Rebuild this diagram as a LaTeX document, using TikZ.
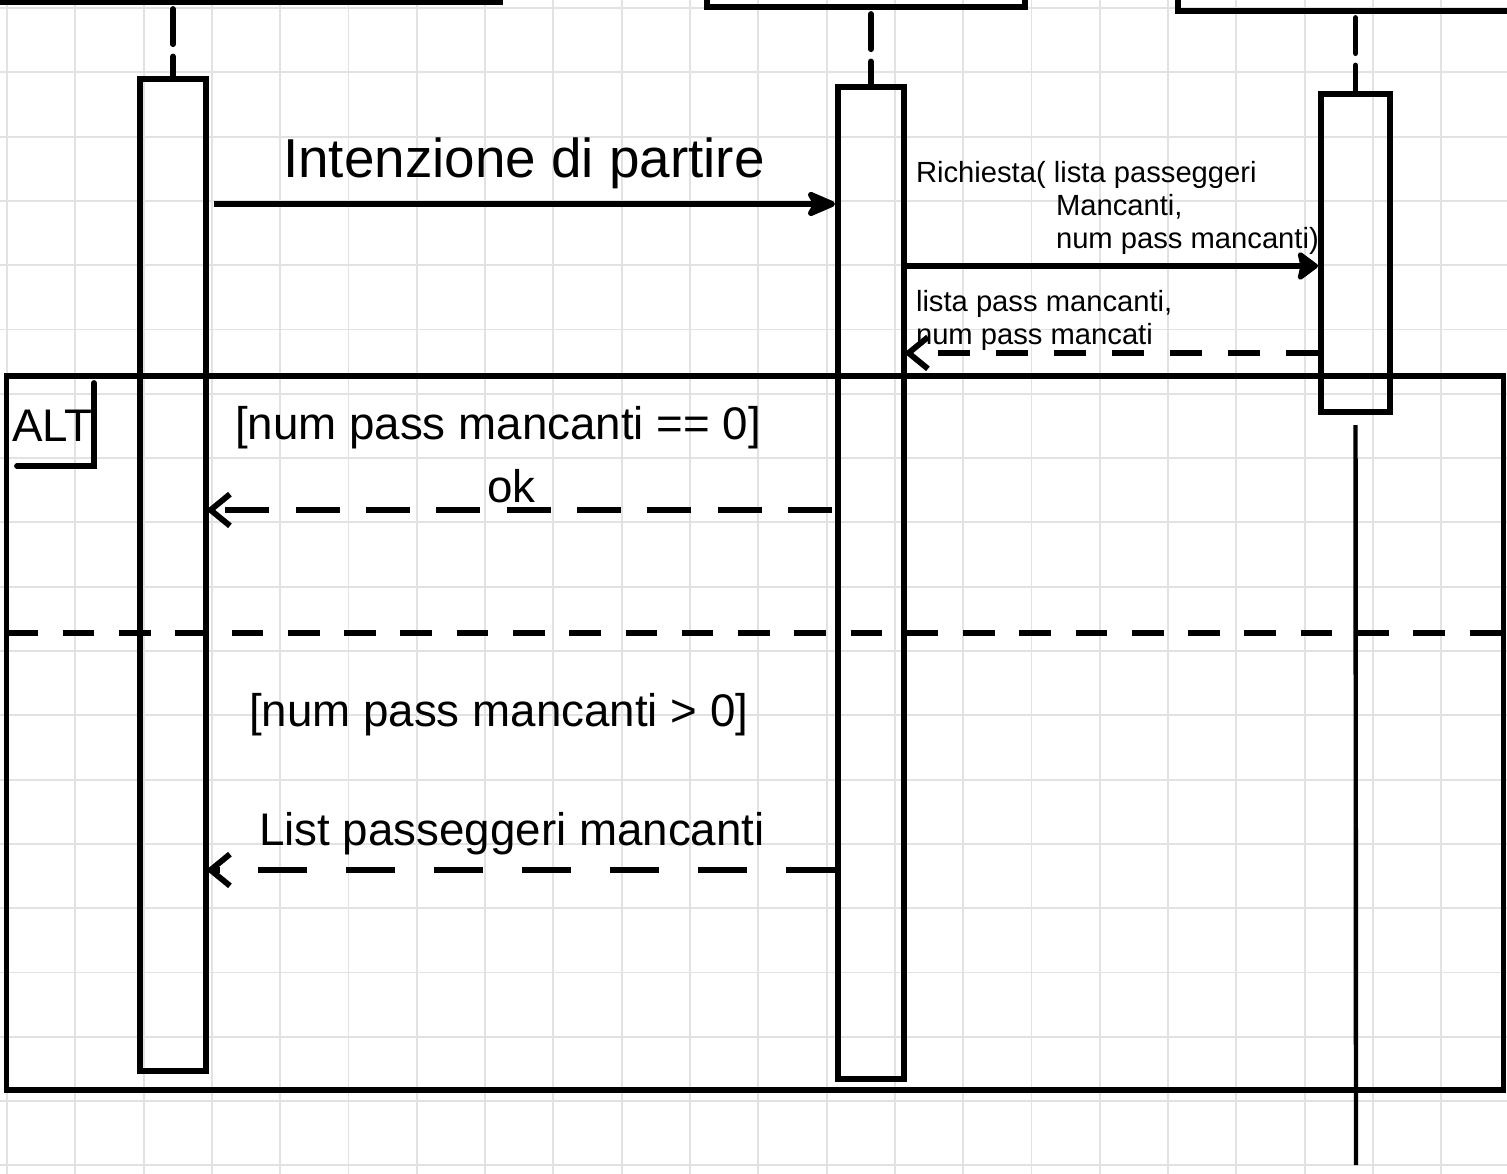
\documentclass[tikz,border=0pt]{standalone}
\usepackage{fontspec}
\setmainfont{Liberation Sans}
\usetikzlibrary{arrows.meta}
\definecolor{gridgray}{RGB}{226,226,226}

\begin{document}
\begin{tikzpicture}[x=0.01cm, y=-0.01cm,
  thickline/.style={line width=1.65pt},
  gridline/.style={draw=gridgray, line width=0.55pt},
  head/.style={draw, thickline, inner sep=0pt, outer sep=0pt, minimum height=1.24cm},
  act/.style={draw, thickline, inner sep=0pt, outer sep=0pt, minimum width=0.66cm},
  life/.style={thickline, dash pattern=on 10pt off 3.5pt, line cap=round},
  call/.style={thickline, -{Stealth[length=10pt,width=8.5pt,inset=2.5pt,round]}},
  reply/.style={thickline, -{Straight Barb[length=5.5pt,width=9pt]}},
  lbl/.style={anchor=base west, inner sep=0pt, outer sep=0pt},
  big/.style={lbl, font=\fontsize{15.6}{18}\selectfont},
  mid/.style={lbl, font=\fontsize{13}{15}\selectfont},
  small/.style={lbl, font=\fontsize{8.3}{9.4}\selectfont},
]
\useasboundingbox (0,0) rectangle (1507,1174);
\clip (0,0) rectangle (1507,1174);
\fill[white] (0,0) rectangle (1507,1174);

% grid paper
\foreach \gx in {0,...,21}
  \draw[gridline] ({7+68.3*\gx},0) -- ({7+68.3*\gx},1174);
\foreach \gy in {0,...,18}
  \draw[gridline] (0,{8+64.3*\gy}) -- (1507,{8+64.3*\gy});

% object heads, cut by the top edge
\node[head, minimum width=5.4cm] (headA) at (230,-60) {};
\node[head, minimum width=3.18cm] (headB) at (866,-55) {};
\node[head, minimum width=3.82cm] (headC) at (1369,-51) {};

% activations
\node[act, minimum height=9.92cm] (actA) at (173,575) {};
\node[act, minimum height=9.92cm] (actB) at (871,583) {};
\node[act, minimum width=0.69cm, minimum height=3.18cm] (actC) at (1355.5,253) {};

% lifelines
\draw[life, shorten <=0.07cm] (actA.north |- headA.south) -- (actA.north);
\draw[life, shorten <=0.07cm] (actB.north |- headB.south) -- (actB.north);
\draw[life, shorten <=0.07cm] (actC.north |- headC.south) -- (actC.north);
\coordinate (tailC) at (1356,1165);
\draw[line width=1.25pt] ([yshift=-0.13cm]actC.south) -- (tailC);

% alt fragment
\node[draw, thickline, inner sep=0pt, outer sep=0pt,
      minimum width=14.96cm, minimum height=7.14cm] (altbox) at (755,733) {};
\node[mid] (altlbl) at (12,442) {ALT};
\draw[thickline, line cap=round] (94,383) -- (94,466) -- (17,466);
\draw[thickline, dash pattern=on 9pt off 7pt]
  (altbox.west |- 0,633) -- (altbox.east |- 0,633);

% messages
\draw[call, shorten <=0.08cm, shorten >=0.03cm] (actA.east |- 0,204) -- (actB.west |- 0,204);
\node[big] (msgStart) at (283,178) {Intenzione di partire};

\draw[thickline, -{Stealth[length=6.5pt,width=9.5pt,inset=1pt,round]}, shorten <=0.03cm, shorten >=0.03cm]
  (actB.east |- 0,266) -- (actC.west |- 0,266);
\node[small] (reqA) at (916,183) {Richiesta( lista passeggeri};
\node[small] (reqB) at (1056,216) {Mancanti,};
\node[small] (reqC) at (1056,249) {num pass mancanti)};

\draw[reply, dash pattern=on 9pt off 7.5pt, shorten <=0.03cm] (actC.west |- 0,353) -- (actB.east |- 0,353);
\node[small] (ansA) at (916,312) {lista pass mancanti,};
\node[small] (ansB) at (916,345) {num pass mancati};

\node[mid] (guardZero) at (235,440) {[num pass mancanti == 0]};
\draw[reply, dash pattern=on 12.5pt off 7.5pt, shorten <=0.06cm] (actB.west |- 0,510) -- (actA.east |- 0,510);
\node[mid] (okMsg) at (487,503) {ok};

\node[mid] (guardMore) at (249,727) {[num pass mancanti > 0]};
\draw[reply, dash pattern=on 14pt off 11pt, shorten <=0.03cm] (actB.west |- 0,870) -- (actA.east |- 0,870);
\node[mid] (listMsg) at (259,846) {List passeggeri mancanti};
\end{tikzpicture}
\end{document}
